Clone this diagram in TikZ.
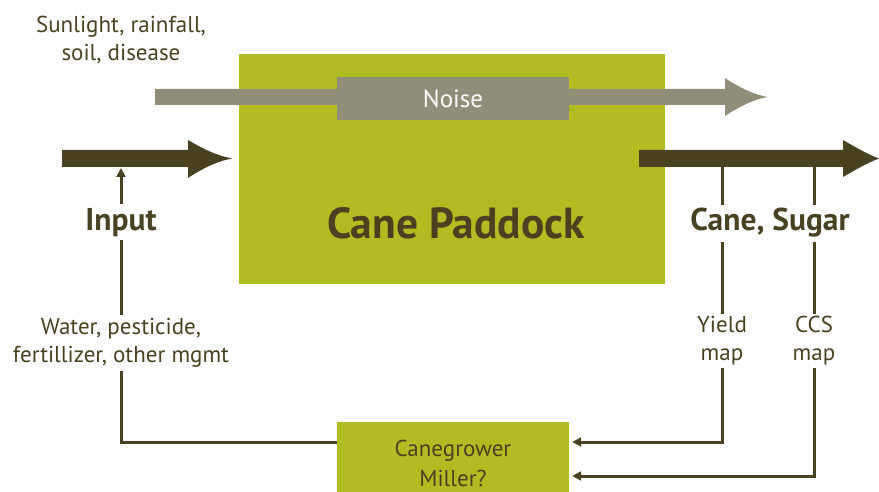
\documentclass[tikz,border=0pt]{standalone}
\usepackage{fontspec}
\setmainfont{PT Sans}
\usetikzlibrary{arrows.meta}
\definecolor{cgreen}{RGB}{175,189,34}
\definecolor{cgray}{RGB}{144,141,120}
\definecolor{cdark}{RGB}{72,66,32}
\begin{document}
\begin{tikzpicture}[x=1pt,y=-1pt,
 lbl/.style={text=cdark, align=center, font=\fontsize{23}{28}\selectfont, fill=white, inner sep=3pt},
 bigl/.style={text=cdark, font=\bfseries\fontsize{31.5}{36}\selectfont, fill=white, inner sep=4pt, anchor=base},
 feed/.style={draw=cdark, line width=3pt},
 feedarrow/.style={feed, -{Triangle[length=9pt,width=9pt]}},
 greenbox/.style={fill=cgreen, draw=none, inner sep=0pt},
 fatdark/.style={fill=cdark, draw=none},
 fatgray/.style={fill=cgray, draw=none}]
\useasboundingbox (0,0) rectangle (879,492);
% main box
\node[greenbox, minimum width=426pt, minimum height=230pt] (paddock) at (452,169) {};
% noise arrow
\fill[fatgray] (155,89) -- (725,89) -- (725,78) .. controls (740,88) and (755,95) .. (768,97)
  .. controls (755,99) and (740,106) .. (725,116) -- (725,105) -- (155,105) -- cycle;
\node[fill=cgray, minimum width=232pt, minimum height=43pt, inner sep=0pt, text=white,
  font=\fontsize{25}{28}\selectfont] (noise) at (453,98.5) {Noise};
% input fat arrow
\fill[fatdark] (62,150) -- (188,150) -- (188,140) .. controls (203,149) and (218,156) .. (232,158.5)
  .. controls (218,161) and (203,168) .. (188,178) -- (188,167) -- (62,167) -- cycle;
% output fat arrow
\fill[fatdark] (639,150) -- (843,150) -- (843,140) .. controls (855,147) and (867,154) .. (879,158.5)
  .. controls (867,163) and (855,170) .. (843,177) -- (843,167) -- (639,167) -- cycle;
% canegrower box
\node[greenbox, minimum width=232pt, minimum height=72pt] (cane) at (453,458) {};
% coordinates
\coordinate (inTip) at (121,168);
\coordinate (fbY) at (0,442);
\coordinate (yTop) at (722,166);
\coordinate (cTop) at (814,166);
\coordinate (cRow) at (0,476);
% feedback lines
\draw[feedarrow] (cane.west |- fbY) -| (inTip);
\draw[feedarrow, shorten >=3pt] (yTop) |- (cane.east |- fbY);
\draw[feedarrow, shorten >=3pt] (cTop) |- (cane.east |- cRow);
% texts
\node[lbl, fill=none] (sun) at (121,40) {Sunlight, rainfall,\\soil, disease};
\node[text=cdark, font=\bfseries\fontsize{43.5}{48}\selectfont, anchor=base] (ptext) at (456,238) {Cane Paddock};
\node[bigl] (input) at (121,230) {Input};
\node[bigl] (out) at (770,231) {Cane, Sugar};
\node[lbl] (water) at (121,343) {Water, pesticide,\\fertillizer, other mgmt};
\node[lbl] (yield) at (722,341) {Yield\\map};
\node[lbl] (ccs) at (814,341) {CCS\\map};
\node[lbl, fill=none, font=\fontsize{23}{30}\selectfont] (cgtext) at (453,463) {Canegrower\\Miller?};
\end{tikzpicture}
\end{document}
